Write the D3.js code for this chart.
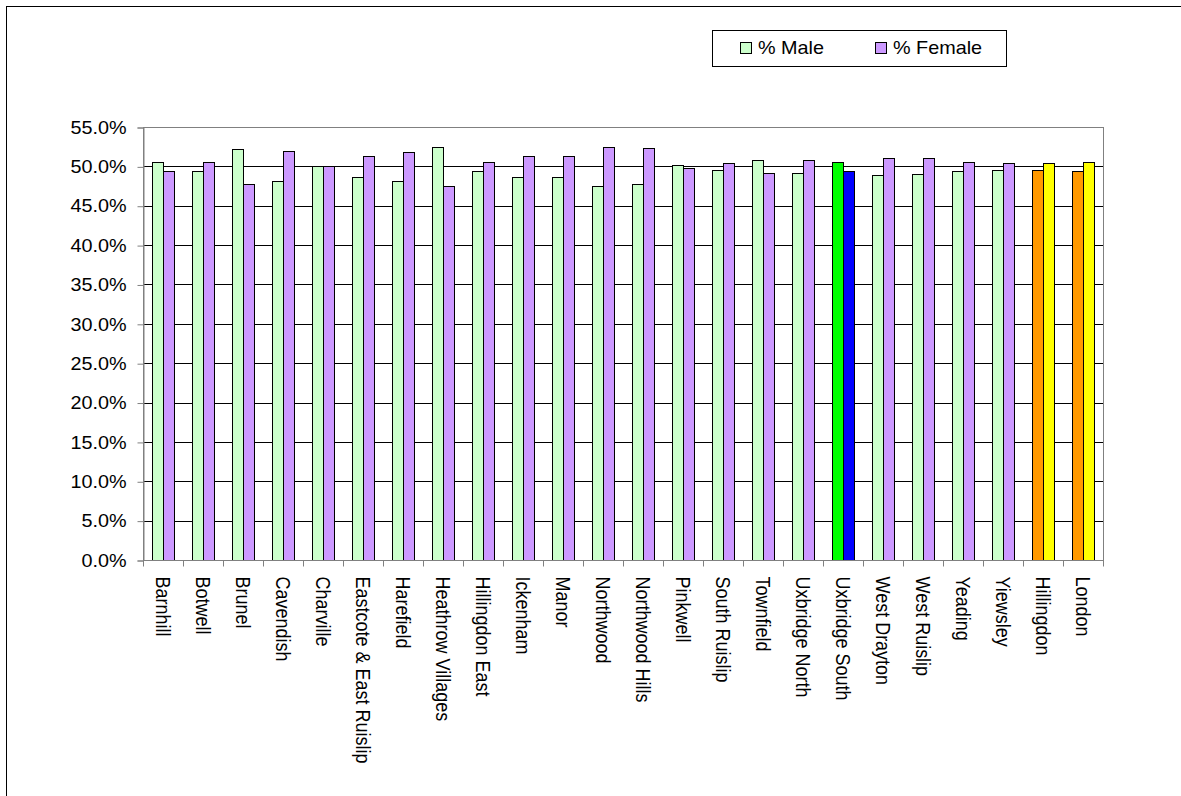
<!DOCTYPE html>
<html><head><meta charset="utf-8">
<script src="https://cdn.jsdelivr.net/npm/d3@7"></script>
<style>
html,body{margin:0;padding:0;background:#fff;}
svg{display:block;font-family:"Liberation Sans",Arial,sans-serif;}
</style></head>
<body>
<svg id="chart" width="1181" height="796"></svg>
<script>
const categories = ["Barnhill","Botwell","Brunel","Cavendish","Charville","Eastcote & East Ruislip","Harefield","Heathrow Villages","Hillingdon East","Ickenham","Manor","Northwood","Northwood Hills","Pinkwell","South Ruislip","Townfield","Uxbridge North","Uxbridge South","West Drayton","West Ruislip","Yeading","Yiewsley","Hillingdon","London"];
const male   = [50.6,49.4,52.2,48.1,50.0,48.7,48.2,52.5,49.4,48.7,48.7,47.5,47.7,50.2,49.6,50.8,49.2,50.6,48.9,49.0,49.4,49.6,49.6,49.4];
const female = [49.4,50.6,47.8,51.9,50.0,51.3,51.8,47.5,50.6,51.3,51.3,52.5,52.3,49.8,50.4,49.2,50.8,49.4,51.1,51.0,50.6,50.4,50.4,50.6];
const seriesNames = ["% Male","% Female"];
const yTicks = [0,5,10,15,20,25,30,35,40,45,50,55];

const baseColors = {male:"#CCFFCC", female:"#CC99FF"};
const specialColors = {
  "Uxbridge South": {male:"#00FF00", female:"#0000FF"},
  "Hillingdon": {male:"#FF9900", female:"#FFFF00"},
  "London": {male:"#FF9900", female:"#FFFF00"}
};

const svg = d3.select("#chart");
const L = 143, T = 127, R = 1103, B = 560;
const fs = 18;
const sx = 1.1; // horizontal text stretch seen in the reference

// outer border
svg.append("rect").attr("x",6.5).attr("y",6.5).attr("width",1300).attr("height",1000)
  .attr("fill","none").attr("stroke","#000").attr("stroke-width",1);

const x = d3.scaleBand().domain(categories).range([L,R]).paddingInner(0).paddingOuter(0);
const x1 = d3.scaleBand().domain(["male","female"]).range([0,x.bandwidth()]).paddingInner(0).paddingOuter(0.75);
const y = d3.scaleLinear().domain([0,55]).range([B,T]);

// gridlines
svg.append("g").selectAll("line").data(yTicks.filter(t=>t>0 && t<55)).join("line")
  .attr("x1",L).attr("x2",R)
  .attr("y1",d=>Math.round(y(d))+0.5).attr("y2",d=>Math.round(y(d))+0.5)
  .attr("stroke","#000").attr("stroke-width",1);

// plot border
svg.append("rect").attr("x",L+0.5).attr("y",Math.round(T)+0.5)
  .attr("width",R-L).attr("height",B-T)
  .attr("fill","none").attr("stroke","#808080").attr("stroke-width",1);

// bars
const data = categories.map((c,i)=>({cat:c, male:male[i], female:female[i]}));
const g = svg.append("g");
data.forEach(d=>{
  ["male","female"].forEach(k=>{
    const col = (specialColors[d.cat]||baseColors)[k];
    const x0 = x(d.cat)+x1(k);
    g.append("rect")
      .attr("x",Math.round(x0)+0.5)
      .attr("y",Math.round(y(d[k]))+0.5)
      .attr("width",Math.round(x1.bandwidth()))
      .attr("height",Math.round(y(0))-Math.round(y(d[k])))
      .attr("fill",col).attr("stroke","#000").attr("stroke-width",1);
  });
});

// y axis
const yAxis = d3.axisLeft(y).tickValues(yTicks).tickSize(6).tickPadding(0)
  .tickFormat(d=>d.toFixed(1)+"%");
const ya = svg.append("g").attr("transform",`translate(${L+0.5},0.5)`).call(yAxis);
ya.select(".domain").attr("stroke","#808080");
ya.selectAll(".tick line").attr("stroke","#808080");
ya.selectAll(".tick text").attr("x",null)
  .attr("transform",`translate(-17,0) scale(${sx},1)`)
  .attr("font-size",fs).attr("font-family","Liberation Sans, Arial, sans-serif").attr("fill","#000");

// x axis
const xa = svg.append("g").attr("transform",`translate(0,${B+0.5})`);
xa.append("line").attr("x1",L).attr("x2",R+0.5).attr("y1",0).attr("y2",0).attr("stroke","#808080");
const bounds = categories.map(c=>x(c)).concat([R]);
xa.selectAll("line.tk").data(bounds).join("line").attr("class","tk")
  .attr("x1",d=>Math.round(d)+0.5).attr("x2",d=>Math.round(d)+0.5)
  .attr("y1",0).attr("y2",6).attr("stroke","#808080");
xa.selectAll("text").data(categories).join("text")
  .attr("transform",d=>`translate(${x(d)+x.bandwidth()/2},16) scale(${sx},1) rotate(90)`)
  .attr("dy","0.35em").attr("text-anchor","start")
  .attr("font-size",fs).attr("fill","#000").text(d=>d);

// legend
const lg = svg.append("g");
lg.append("rect").attr("x",712.5).attr("y",30.5).attr("width",294).attr("height",36)
  .attr("fill","#fff").attr("stroke","#000").attr("stroke-width",1);
const legendItems = [{name:seriesNames[0],key:"male",x:740},{name:seriesNames[1],key:"female",x:875}];
legendItems.forEach(it=>{
  lg.append("rect").attr("x",it.x+0.5).attr("y",42.5).attr("width",11).attr("height",11)
    .attr("fill",baseColors[it.key]).attr("stroke","#000").attr("stroke-width",1);
  lg.append("text").attr("transform",`translate(${it.x+18},48) scale(${sx},1)`).attr("dy","0.35em")
    .attr("font-size",fs).attr("fill","#000").text(it.name);
});
</script>
</body></html>
